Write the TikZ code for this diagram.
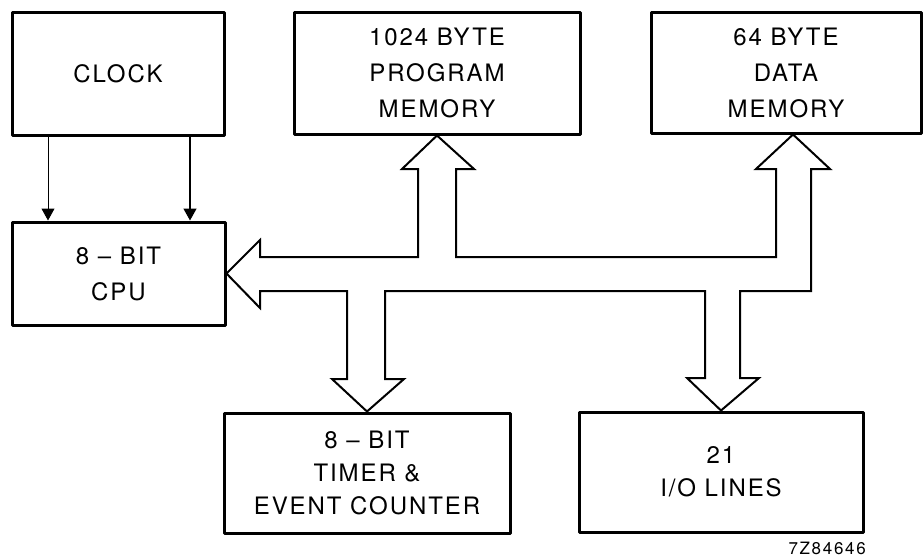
\documentclass[tikz,border=0pt]{standalone}
\usepackage{fontspec}
\setmainfont{TeX Gyre Heros}
\usetikzlibrary{arrows.meta,calc}
\tikzset{
  blockbox/.style={draw,line width=3pt,align=center,inner sep=0pt,
    font=\addfontfeatures{LetterSpace=8}\fontsize{24}{36}\selectfont},
  busline/.style={line width=2pt,line join=miter},
  clkline/.style={line width=1.4pt,-{Triangle[width=13pt,length=12pt]}},
}
\begin{document}
\begin{tikzpicture}[x=1pt,y=-1pt,line join=round]
  \useasboundingbox (0,0) rectangle (924,558);
  % blocks
  \node[blockbox,minimum width=212pt,minimum height=123pt] (clock) at (118,73.5) {CLOCK};
  \node[blockbox,minimum width=213pt,minimum height=103pt] (cpu) at (118.5,273.5) {8 -- BIT\\CPU};
  \node[blockbox,minimum width=286pt,minimum height=122pt] (prog) at (437,73) {1024 BYTE\\PROGRAM\\MEMORY};
  \node[blockbox,minimum width=270pt,minimum height=121pt] (data) at (786,72.5) {64 BYTE\\DATA\\MEMORY};
  \node[blockbox,minimum width=286pt,minimum height=120pt,
    font=\addfontfeatures{LetterSpace=8}\fontsize{24}{33}\selectfont] (timer) at (367,473) {8 -- BIT\\TIMER \&\\EVENT COUNTER};
  \node[blockbox,minimum width=284pt,minimum height=120pt,
    font=\addfontfeatures{LetterSpace=8}\fontsize{24}{33}\selectfont] (io) at (721,472) {21\\I/O LINES};
  \node[anchor=base east,inner sep=0pt,font=\addfontfeatures{LetterSpace=10}\fontsize{17}{20}\selectfont] (figno) at (866,554) {7Z84646};
  % clock lines
  \draw[clkline,line width=1pt] ([xshift=-70pt]clock.south) -- ([xshift=-70.5pt]cpu.north);
  \draw[clkline] ([xshift=72pt]clock.south) -- ([xshift=71.5pt]cpu.north);
  % bus
  \draw[busline] (cpu.east) -- (260,240) -- (260,257) -- (418,257) -- (418,169) -- (402,169)
    -- (prog.south) -- (474,169) -- (456,169) -- (456,257) -- (776,257) -- (776,169) -- (756,169)
    -- ([xshift=7pt]data.south) -- (830,169) -- (811,169) -- (811,291) -- (740,291) -- (740,378)
    -- (759,378) -- (io.north) -- (687,378) -- (705,378) -- (705,291) -- (385,291) -- (385,379)
    -- (404,379) -- (timer.north) -- (332,379) -- (347,379) -- (347,291) -- (260,291) -- (260,308) -- cycle;
\end{tikzpicture}
\end{document}
